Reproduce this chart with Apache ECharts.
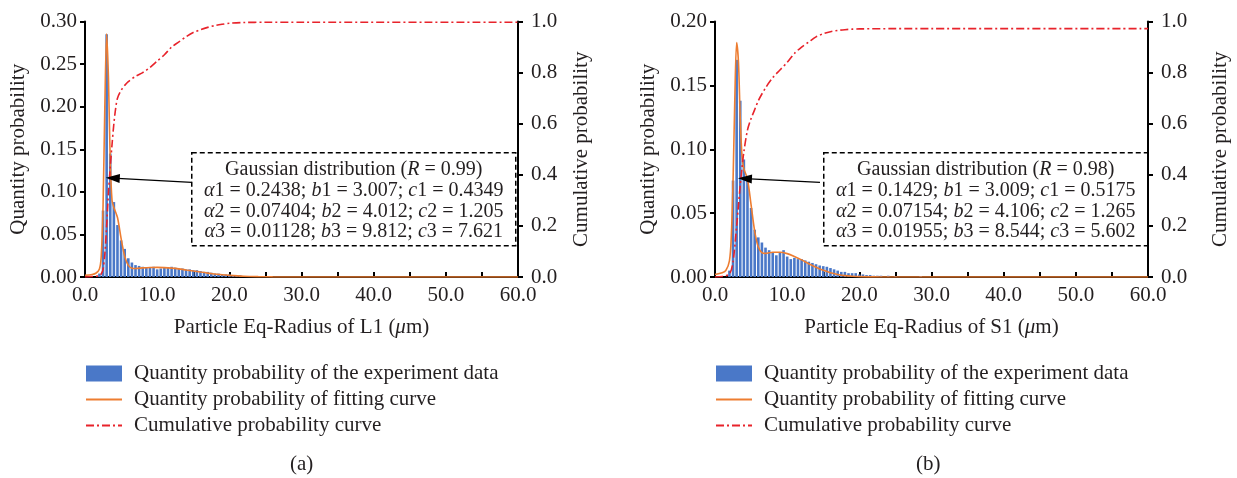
<!DOCTYPE html>
<html>
<head>
<meta charset="utf-8">
<script src="https://cdn.jsdelivr.net/npm/echarts@6/dist/echarts.min.js"></script>
<style>
  html, body { margin: 0; padding: 0; background: #fff; }
  #main { width: 1237px; height: 478px; }
</style>
</head>
<body>
<div id="main"></div>
<script>
// ---- data ----
var binL = [2.0, 2.5, 3.0, 3.5, 4.0, 4.5, 5.0, 5.5, 6.0, 6.5, 7.0, 7.5, 8.0, 8.5, 9.0, 9.5, 10.0, 10.5, 11.0, 11.5, 12.0, 12.5, 13.0, 13.5, 14.0, 14.5, 15.0, 15.5, 16.0, 16.5, 17.0, 17.5, 18.0, 18.5, 19.0, 19.5, 20.0, 20.5, 21.0, 21.5, 22.0, 22.5, 23.0, 24.0, 25.0];
var barL = [0.004, 0.078, 0.285, 0.145, 0.088, 0.061, 0.043, 0.033, 0.022, 0.017, 0.014, 0.013, 0.012, 0.011, 0.011, 0.012, 0.009, 0.010, 0.011, 0.011, 0.012, 0.011, 0.010, 0.010, 0.009, 0.009, 0.008, 0.008, 0.007, 0.006, 0.006, 0.005, 0.004, 0.004, 0.003, 0.003, 0.003, 0.002, 0.002, 0.002, 0.001, 0.001, 0.001, 0.0005, 0.0005];

var binS = [2.0, 2.5, 3.0, 3.5, 4.0, 4.5, 5.0, 5.5, 6.0, 6.5, 7.0, 7.5, 8.0, 8.5, 9.0, 9.5, 10.0, 10.5, 11.0, 11.5, 12.0, 12.5, 13.0, 13.5, 14.0, 14.5, 15.0, 15.5, 16.0, 16.5, 17.0, 17.5, 18.0, 18.5, 19.0, 19.5, 20.0, 20.5, 21.0, 21.5, 22.0, 22.5, 23.0, 24.0, 25.0, 28.5];
var barS = [0.005, 0.0755, 0.170, 0.138, 0.092, 0.077, 0.054, 0.037, 0.031, 0.027, 0.023, 0.021, 0.019, 0.017, 0.019, 0.021, 0.016, 0.014, 0.015, 0.014, 0.014, 0.013, 0.012, 0.011, 0.010, 0.009, 0.0085, 0.008, 0.007, 0.006, 0.005, 0.004, 0.004, 0.003, 0.003, 0.003, 0.002, 0.002, 0.0015, 0.0015, 0.001, 0.001, 0.001, 0.001, 0.0008, 0.0008];

var fitX = [0, 1, 1.5, 2, 2.25, 2.5, 2.75, 3, 3.25, 3.5, 3.75, 4, 4.5, 5, 5.5, 6, 6.5, 7, 8, 9, 10, 11, 12, 13, 14, 15, 16, 17, 18, 19, 20, 22, 24, 26, 28, 30, 40, 50, 60];
var fitL = [0.002, 0.003, 0.0044, 0.0095, 0.0247, 0.0826, 0.2014, 0.2855, 0.2335, 0.135, 0.0898, 0.0817, 0.0698, 0.0454, 0.0243, 0.0136, 0.0104, 0.0100, 0.0107, 0.0112, 0.0113, 0.0110, 0.0104, 0.0095, 0.0083, 0.0071, 0.0058, 0.0046, 0.0036, 0.0026, 0.0019, 0.0009, 0.0004, 0.0001, 0, 0, 0, 0, 0];
var fitS = [0.002, 0.0034, 0.0051, 0.0127, 0.0305, 0.0747, 0.1406, 0.1836, 0.1683, 0.1237, 0.0939, 0.0848, 0.0766, 0.0565, 0.0358, 0.0235, 0.0191, 0.0185, 0.0194, 0.0194, 0.0183, 0.0161, 0.0134, 0.0104, 0.0076, 0.0052, 0.0033, 0.0020, 0.0011, 0.0006, 0.0003, 0.0001, 0, 0, 0, 0, 0, 0, 0];

var cumXL = [0, 1, 2, 2.25, 2.5, 2.75, 3, 3.25, 3.5, 3.75, 4, 4.25, 4.5, 5, 5.5, 6, 7, 8, 9, 10, 11, 12, 13, 14, 15, 16, 17, 18, 19, 20, 22, 25, 30, 60];
var cumL = [0, 0.002, 0.005, 0.012, 0.03, 0.09, 0.2, 0.33, 0.43, 0.52, 0.6, 0.66, 0.7, 0.73, 0.75, 0.765, 0.785, 0.8, 0.82, 0.845, 0.87, 0.9, 0.92, 0.94, 0.957, 0.968, 0.977, 0.984, 0.989, 0.993, 0.996, 0.997, 0.997, 0.997];
var cumXS = [0, 1, 2, 2.5, 3, 3.25, 3.5, 3.75, 4, 4.5, 5, 5.5, 6, 7, 8, 9, 10, 11, 12, 13, 14, 15, 16, 17, 18, 19, 20, 25, 30, 60];
var cumS = [0, 0.002, 0.012, 0.06, 0.2, 0.28, 0.36, 0.43, 0.49, 0.575, 0.62, 0.655, 0.69, 0.74, 0.78, 0.81, 0.84, 0.875, 0.9, 0.92, 0.94, 0.952, 0.96, 0.965, 0.968, 0.97, 0.971, 0.972, 0.972, 0.972];

var names = ['Quantity probability of the experiment data', 'Quantity probability of fitting curve', 'Cumulative probability curve'];
var fitText = {
  L: ['Gaussian distribution ({i|R} = 0.99)', '{i|α}1 = 0.2438; {i|b}1 = 3.007; {i|c}1 = 0.4349', '{i|α}2 = 0.07404; {i|b}2 = 4.012; {i|c}2 = 1.205', '{i|α}3 = 0.01128; {i|b}3 = 9.812; {i|c}3 = 7.621'],
  S: ['Gaussian distribution ({i|R} = 0.98)', '{i|α}1 = 0.1429; {i|b}1 = 3.009; {i|c}1 = 0.5175', '{i|α}2 = 0.07154; {i|b}2 = 4.106; {i|c}2 = 1.265', '{i|α}3 = 0.01955; {i|b}3 = 8.544; {i|c}3 = 5.602']
};

function pairs(xs, ys) {
  return xs.map(function (x, i) { return [x, ys[i]]; });
}

var FONT = 'Liberation Serif';
var FS = 21;
var BOX_FS = 20;
var INK = '#231f20';

var chart = echarts.init(document.getElementById('main'));

function xAxisFor(idx, label) {
  return {
    type: 'value', gridIndex: idx, min: 0, max: 60, interval: 10,
    name: label, nameLocation: 'middle', nameGap: 40,
    nameTextStyle: { fontFamily: FONT, fontSize: FS, color: INK, rich: { i: { fontFamily: FONT, fontSize: FS, fontStyle: 'italic', color: INK } } },
    axisLine: { lineStyle: { color: '#000', width: 2 } },
    axisTick: { inside: true, length: 5, lineStyle: { color: '#000', width: 2 } },
    minorTick: { show: true, splitNumber: 2, length: 5, lineStyle: { color: '#000', width: 2 } },
    axisLabel: { margin: 8, fontFamily: FONT, fontSize: FS, color: INK, formatter: function (v) { return v.toFixed(1); } },
    splitLine: { show: false }
  };
}
function yLeft(idx, max, step) {
  return {
    type: 'value', gridIndex: idx, min: 0, max: max, interval: step,
    name: 'Quantity probability', nameLocation: 'middle', nameGap: 56,
    nameTextStyle: { fontFamily: FONT, fontSize: FS, color: INK },
    axisLine: { show: true, lineStyle: { color: '#000', width: 2 } },
    axisTick: { show: true, length: 5, lineStyle: { color: '#000', width: 2 } },
    axisLabel: { margin: 8, fontFamily: FONT, fontSize: FS, color: INK, formatter: function (v) { return v.toFixed(2); } },
    splitLine: { show: false }
  };
}
function yRight(idx, gap) {
  return {
    type: 'value', gridIndex: idx, min: 0, max: 1, interval: 0.2, position: 'right',
    name: 'Cumulative probability', nameLocation: 'middle', nameGap: gap,
    nameTextStyle: { fontFamily: FONT, fontSize: FS, color: INK },
    axisLine: { show: true, lineStyle: { color: '#000', width: 2 } },
    axisTick: { show: true, length: 5, lineStyle: { color: '#000', width: 2 } },
    axisLabel: { margin: 13, fontFamily: FONT, fontSize: FS, color: INK, formatter: function (v) { return v.toFixed(1); } },
    splitLine: { show: false }
  };
}

function seriesFor(idx, bins, bars, fit, cumX, cum, arrow) {
  return [
    {
      name: names[0], type: 'bar', xAxisIndex: idx, yAxisIndex: idx * 2,
      data: pairs(bins, bars), barWidth: 2.6,
      itemStyle: { color: '#4a78c8' }, z: 2
    },
    {
      name: names[1], type: 'line', xAxisIndex: idx, yAxisIndex: idx * 2,
      data: pairs(fitX, fit), smooth: 0.3, symbol: 'none',
      lineStyle: { color: '#ed7d31', width: 1.6 }, itemStyle: { color: '#ed7d31' }, z: 3,
      markLine: {
        silent: true, symbol: ['none', 'triangle'], symbolSize: [9, 14],
        lineStyle: { color: '#000', width: 1.2, type: 'solid' },
        label: { show: false },
        data: [[{ coord: arrow[0] }, { coord: arrow[1] }]]
      }
    },
    {
      name: names[2], type: 'line', xAxisIndex: idx, yAxisIndex: idx * 2 + 1,
      data: pairs(cumX, cum), smooth: 0.3, symbol: 'none',
      lineStyle: { color: '#e8232b', width: 1.6, type: [8, 3, 2, 3] }, itemStyle: { color: '#e8232b' }, z: 4
    }
  ];
}

function noteBox(x, lines) {
  return {
    type: 'group', left: x, top: 152,
    children: [
      { type: 'rect', shape: { x: 0, y: 0, width: 324, height: 93 },
        style: { fill: '#fff', stroke: '#000', lineWidth: 1.5, lineDash: [5, 3] } },
      { type: 'text', x: 162, y: 7,
        style: { text: lines.join('\n'), align: 'center', verticalAlign: 'top', fill: INK,
          font: BOX_FS + 'px "Liberation Serif"', lineHeight: 20.7,
          rich: { i: { fontStyle: 'italic', fontFamily: FONT, fontSize: BOX_FS, fill: INK, lineHeight: 20.7 } } } }
    ]
  };
}

function legendFor(x) {
  return {
    orient: 'vertical', left: x, top: 363, padding: 0, itemWidth: 36, itemHeight: 16, itemGap: 5,
    selectedMode: false,
    textStyle: { fontFamily: FONT, fontSize: FS, color: INK, padding: [0, 0, 0, 7] },
    data: [
      { name: names[0], icon: 'rect' },
      { name: names[1], itemStyle: { opacity: 0 } },
      { name: names[2], itemStyle: { opacity: 0 } }
    ]
  };
}

var option = {
  backgroundColor: '#fff',
  animation: false,
  grid: [
    { left: 85, right: 719, top: 21.5, bottom: 201 },
    { left: 715, right: 89, top: 21.5, bottom: 201 }
  ],
  legend: [legendFor(85), legendFor(715)],
  xAxis: [
    xAxisFor(0, 'Particle Eq-Radius of L1 ({i|μ}m)'),
    xAxisFor(1, 'Particle Eq-Radius of S1 ({i|μ}m)')
  ],
  yAxis: [yLeft(0, 0.30, 0.05), yRight(0, 53), yLeft(1, 0.20, 0.05), yRight(1, 62)],
  series: [].concat(
    seriesFor(0, binL, barL, fitL, cumXL, cumL, [[14.8, 0.111], [3.85, 0.116]]),
    seriesFor(1, binS, barS, fitS, cumXS, cumS, [[14.55, 0.074], [4.15, 0.077]])
  ),
  graphic: [
    noteBox(191, fitText.L),
    noteBox(823, fitText.S),
    { type: 'text', left: 290, top: 454, style: { text: '(a)', font: FS + 'px "Liberation Serif"', fill: INK } },
    { type: 'text', left: 916, top: 454, style: { text: '(b)', font: FS + 'px "Liberation Serif"', fill: INK } }
  ]
};

chart.setOption(option);
</script>
</body>
</html>
